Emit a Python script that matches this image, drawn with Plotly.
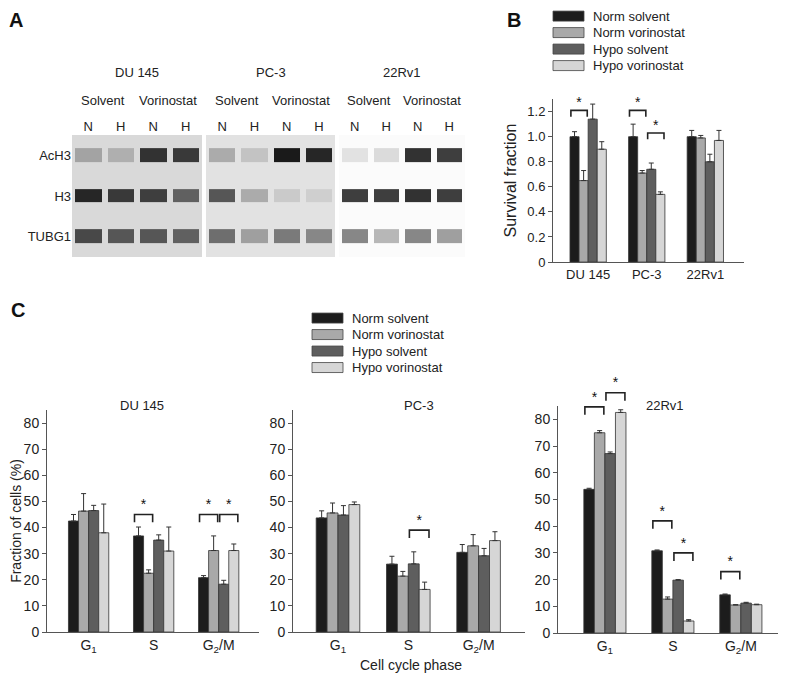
import plotly.graph_objects as go

# The page body adds an 8 px margin and the captured page comes out slightly
# squeezed vertically (681 -> 673 px), so positions below are given in
# window pixels and mapped back to paper coordinates by sx / sy.
OFF = 8
SQ = 681 / 673
W, H = 786 - OFF, 673

# ---- panel A: western blot, band darkness (0 = nothing, 1 = black) ----
blot_cells = ['DU 145', 'PC-3', '22Rv1']
blot_rows = ['AcH3', 'H3', 'TUBG1']
blot_lanes = ['N', 'H', 'N', 'H']
blot_treat = ['Solvent', 'Vorinostat']
blot_du145 = [[0.38, 0.33, 0.85, 0.82],
              [0.90, 0.82, 0.80, 0.66],
              [0.76, 0.70, 0.70, 0.66]]
blot_pc3 = [[0.35, 0.25, 0.95, 0.90],
            [0.70, 0.35, 0.22, 0.20],
            [0.60, 0.40, 0.55, 0.50]]
blot_22rv1 = [[0.12, 0.15, 0.85, 0.80],
              [0.80, 0.80, 0.85, 0.80],
              [0.50, 0.30, 0.50, 0.40]]

# ---- panel B: survival fraction ----
groups = ['Norm solvent', 'Norm vorinostat', 'Hypo solvent', 'Hypo vorinostat']
surv_cells = ['DU 145', 'PC-3', '22Rv1']
surv_vals = [[1.00, 1.00, 1.00],
             [0.65, 0.71, 0.99],
             [1.14, 0.74, 0.80],
             [0.90, 0.54, 0.97]]
surv_err = [[0.04, 0.10, 0.05],
            [0.08, 0.02, 0.02],
            [0.12, 0.05, 0.06],
            [0.06, 0.02, 0.08]]
# (cell index, bar a, bar b, bracket top)
surv_sig = [(0, 0, 1, 1.21), (1, 0, 1, 1.21), (1, 2, 3, 1.03)]

# ---- panel C: cell cycle ----
phases = ['G<sub>1</sub>', 'S', 'G<sub>2</sub>/M']
du145_vals = [[42.5, 36.8, 20.8], [46.3, 22.5, 31.2], [46.5, 35.2, 18.3], [38.0, 31.0, 31.2]]
du145_err = [[2.5, 3.4, 0.8], [6.7, 1.3, 5.6], [2.0, 2.0, 1.5], [11.0, 9.2, 2.5]]
du145_sig = [(1, 0, 1, 45), (2, 0, 1, 45), (2, 2, 3, 45)]
pc3_vals = [[43.7, 26.0, 30.5], [45.6, 21.4, 33.0], [44.8, 26.1, 29.2], [48.8, 16.3, 35.0]]
pc3_err = [[2.7, 3.0, 3.0], [3.8, 1.8, 4.3], [3.6, 4.6, 2.8], [1.0, 2.8, 3.4]]
pc3_sig = [(1, 2, 3, 39)]
rv1_vals = [[53.8, 30.8, 14.3], [75.0, 12.7, 10.5], [67.2, 19.8, 11.2], [82.6, 4.5, 10.6]]
rv1_err = [[0.4, 0.3, 0.3], [0.8, 0.8, 0.1], [0.6, 0.2, 0.3], [1.0, 0.5, 0.2]]
rv1_sig = [(0, 0, 1, 84.7), (0, 2, 3, 90), (1, 0, 1, 42), (1, 2, 3, 30), (2, 0, 1, 23)]

colors = ['#1c1c1c', '#a9a9a9', '#5e5e5e', '#d6d6d6']
FONT = 'Liberation Sans, Arial, sans-serif'
TXT = '#222222'
AX = '#555555'
BARGAP = 0.38


def sx(p):
    return (p - OFF) / W


def sy(p):
    return 1 - (p * SQ - OFF) / H


def px_x(a, b):
    return [sx(a), sx(b)]


def px_y(top, bottom):
    return [sy(bottom), sy(top)]


def bar_x(i, k):
    w = (1 - BARGAP) / 4
    return i - (1 - BARGAP) / 2 + (k + 0.5) * w


fig = go.Figure()
layout = {}
shapes = []
annotations = []


def label(text, x, y, size=13, **kw):
    annotations.append(dict(text=text, xref='paper', yref='paper', x=sx(x), y=sy(y),
                            showarrow=False, xanchor=kw.pop('xanchor', 'center'),
                            yanchor='middle', font=dict(size=size, **kw)))


# gels
gels = [blot_du145, blot_pc3, blot_22rv1]
gel_x = [(72, 202), (206, 335), (339, 465)]
gel_bg = ['#d9d9d9', '#e2e2e2', '#fbfbfb']
for g, z in enumerate(gels):
    s = '' if g == 0 else str(g + 1)
    fig.add_trace(go.Heatmap(z=z, x=list(range(4)), y=list(range(3)),
                             colorscale=[[0, '#ffffff'], [1, '#0e0e0e']],
                             zmin=0, zmax=1, showscale=False, xgap=6, ygap=27,
                             xaxis='x' + s, yaxis='y' + s, hoverinfo='skip'))
    layout['xaxis' + s] = dict(domain=px_x(*gel_x[g]), range=[-0.5, 3.5], side='top',
                               tickvals=list(range(4)), ticktext=blot_lanes, ticks='',
                               showgrid=False, zeroline=False, showline=False,
                               anchor='y' + s, tickfont=dict(size=13))
    layout['yaxis' + s] = dict(domain=px_y(135, 257), range=[2.5, -0.5],
                               tickvals=list(range(3)), ticktext=blot_rows, ticks='',
                               showticklabels=(g == 0), showgrid=False, zeroline=False,
                               anchor='x' + s, tickfont=dict(size=13))
    x0, x1 = gel_x[g]
    shapes.append(dict(type='rect', xref='paper', yref='paper',
                       x0=sx(x0), x1=sx(x1), y0=sy(257), y1=sy(135),
                       fillcolor=gel_bg[g], line_width=0, layer='below'))
    label(blot_cells[g], (x0 + x1) / 2, 72)
    for t, tr in enumerate(blot_treat):
        label(tr, x0 + (x1 - x0) * (0.24 + 0.5 * t), 100)


def add_bars(vals, errs, sig, ax, sig_ax, drop, star_off):
    n = len(vals[0])
    for k in range(4):
        fig.add_trace(go.Bar(
            x=list(range(n)), y=vals[k], name=groups[k], showlegend=False,
            xaxis='x' + ax, yaxis='y' + ax,
            marker=dict(color=colors[k], line=dict(color='#333333', width=0.8)),
            error_y=dict(type='data', symmetric=False, array=errs[k],
                         arrayminus=[0] * n, color='#333333', thickness=1, width=2.5)))
    w = (1 - BARGAP) / 4
    for i, a, b, top in sig:
        x0 = bar_x(i, a) - 0.4 * w
        x1 = bar_x(i, b) + 0.4 * w
        fig.add_trace(go.Scatter(x=[x0, x0, x1, x1], y=[top - drop, top, top, top - drop],
                                 mode='lines', line=dict(color='#222222', width=1.6),
                                 xaxis='x' + ax, yaxis='y' + sig_ax, showlegend=False,
                                 hoverinfo='skip'))
        fig.add_trace(go.Scatter(x=[(x0 + x1) / 2], y=[top + star_off], mode='text',
                                 text=['*'], textfont=dict(size=14, color='#111111'),
                                 xaxis='x' + ax, yaxis='y' + sig_ax, showlegend=False,
                                 cliponaxis=False, hoverinfo='skip'))


def add_legend(left, top):
    # swatch 31x10 px, rows 16.5 px apart
    for k, name in enumerate(groups):
        yc = top + 16.5 * k
        shapes.append(dict(type='rect', xref='paper', yref='paper',
                           x0=sx(left), x1=sx(left + 31), y0=sy(yc + 5), y1=sy(yc - 5),
                           fillcolor=colors[k], line=dict(color='#444444', width=0.8)))
        label(name, left + 38, yc, xanchor='left')


# panel B
add_bars(surv_vals, surv_err, surv_sig, '4', '4', 0.05, 0.055)
layout['xaxis4'] = dict(domain=px_x(553, 744), range=[-0.6, 2.66], anchor='y4',
                        tickvals=[0, 1, 2], ticktext=surv_cells, ticks='',
                        showline=True, linecolor=AX, linewidth=1, showgrid=False,
                        zeroline=False)
layout['yaxis4'] = dict(domain=px_y(99, 262), range=[0, 1.3], anchor='x4',
                        tickvals=[0, 0.2, 0.4, 0.6, 0.8, 1.0, 1.2],
                        ticktext=['0', '0.2', '0.4', '0.6', '0.8', '1.0', '1.2'],
                        ticks='outside', ticklen=4, tickcolor=AX, showline=True,
                        linecolor=AX, linewidth=1, showgrid=False, zeroline=False,
                        title=dict(text='Survival fraction', standoff=6))
add_legend(553, 16)

# panel C
c_sets = [(du145_vals, du145_err, du145_sig, '5'),
          (pc3_vals, pc3_err, pc3_sig, '6'),
          (rv1_vals, rv1_err, rv1_sig, '7')]
c_x = [(47, 259, -0.64, 2.62), (293, 525, -0.64, 2.66), (558, 783, -0.69, 2.62)]
c_y = [(410, 632), (410, 632), (406, 633)]
c_titles = [('DU 145', 142), ('PC-3', 419), ('22Rv1', 665)]
for n, (vals, errs, sig, ax) in enumerate(c_sets):
    sig_ax = str(int(ax) + 3)
    add_bars(vals, errs, sig, ax, sig_ax, 3.0, 3.3)
    a, b, r0, r1 = c_x[n]
    top, bottom = c_y[n]
    layout['xaxis' + ax] = dict(domain=px_x(a, b), range=[r0, r1], anchor='y' + ax,
                                tickvals=[0, 1, 2], ticktext=phases, ticks='',
                                showline=True, linecolor=AX, linewidth=1, showgrid=False,
                                zeroline=False, tickfont=dict(size=14))
    layout['yaxis' + ax] = dict(domain=px_y(top, bottom), range=[0, 85], anchor='x' + ax,
                                tickvals=list(range(0, 90, 10)), ticks='outside', ticklen=4,
                                tickcolor=AX, showline=True, linecolor=AX, linewidth=1,
                                showgrid=False, zeroline=False, tickfont=dict(size=14))
    # hidden axis with the same scale, taller, so brackets above 85 are not clipped
    ext_top = 370
    layout['yaxis' + sig_ax] = dict(domain=px_y(ext_top, bottom), anchor='x' + ax,
                                    range=[0, 85 * (bottom - ext_top) / (bottom - top)],
                                    visible=False)
    label(c_titles[n][0], c_titles[n][1], 405)
layout['yaxis5']['title'] = dict(text='Fraction of cells (%)', standoff=5, font=dict(size=14))
label('Cell cycle phase', 411, 665, size=14)
add_legend(312, 318)

# panel letters (nudged a little inside the figure edge)
for letter, lx, ly in [('A', 16, 20), ('B', 514, 20), ('C', 18, 310)]:
    label('<b>%s</b>' % letter, lx, ly, size=20, color='#111111')

fig.update_layout(
    width=W, height=H, autosize=False,
    margin=dict(l=0, r=0, t=0, b=0),
    paper_bgcolor='white', plot_bgcolor='rgba(0,0,0,0)',
    font=dict(family=FONT, size=13, color=TXT),
    barmode='group', bargap=BARGAP, bargroupgap=0,
    shapes=shapes, annotations=annotations, showlegend=False,
    **layout,
)

fig.write_html('out.html')
